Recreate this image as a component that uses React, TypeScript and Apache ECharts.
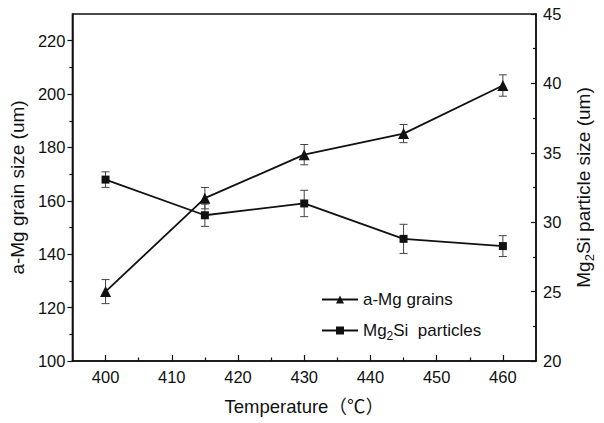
import React, { useEffect, useRef } from "react";
import * as echarts from "echarts";

// Annealing temperature (°C)
const temperatures = [400, 415, 430, 445, 460];
// α-Mg grain size (µm) and its error half-widths
const grainSize = [126, 161, 177.3, 185.2, 203.2];
const grainErr = [4.5, 4, 3.8, 3.4, 4];
// Mg2Si particle size (µm) and its error half-widths
const particleSize = [33.07, 30.5, 31.35, 28.8, 28.28];
const particleErr = [0.56, 0.8, 0.95, 1.05, 0.75];

// Tick positions
const xMajor = [400, 410, 420, 430, 440, 450, 460];
const xMinor = [405, 415, 425, 435, 445, 455];
const leftMajor = [100, 120, 140, 160, 180, 200, 220];
const leftMinor = [110, 130, 150, 170, 190, 210];
const rightMajor = [20, 25, 30, 35, 40, 45];
const rightMinor = [22.5, 27.5, 32.5, 37.5, 42.5];

const FONT = "'Liberation Sans', Arial, 'Noto Sans CJK SC', sans-serif";
const INK = "#111";

const legendRich = {
  n: { fontSize: 17, fontFamily: FONT, color: INK, lineHeight: 24, verticalAlign: "middle" as const },
  s: { fontSize: 12, fontFamily: FONT, color: INK, lineHeight: 24, verticalAlign: "bottom" as const },
};
const nameRich = {
  n: { fontSize: 19, fontFamily: FONT, color: INK, lineHeight: 26, verticalAlign: "middle" as const },
  s: { fontSize: 13, fontFamily: FONT, color: INK, lineHeight: 26, verticalAlign: "bottom" as const },
};

function errorBarSeries(name: string, yAxisIndex: number, values: number[], errs: number[]) {
  return {
    type: "custom",
    name,
    xAxisIndex: 0,
    yAxisIndex,
    z: 1,
    silent: true,
    data: temperatures.map((t, i) => [t, values[i], errs[i]]),
    encode: { x: 0, y: 1 },
    renderItem: (_params: any, api: any) => {
      const x = api.value(0);
      const y = api.value(1);
      const e = api.value(2);
      const top = api.coord([x, y + e]);
      const bot = api.coord([x, y - e]);
      const cap = 4;
      const style = { stroke: "#444", lineWidth: 1 };
      return {
        type: "group",
        children: [
          { type: "line", shape: { x1: top[0], y1: top[1], x2: bot[0], y2: bot[1] }, style },
          { type: "line", shape: { x1: top[0] - cap, y1: top[1], x2: top[0] + cap, y2: top[1] }, style },
          { type: "line", shape: { x1: bot[0] - cap, y1: bot[1], x2: bot[0] + cap, y2: bot[1] }, style },
        ],
      };
    },
  };
}

export default function App() {
  const ref = useRef<HTMLDivElement>(null);

  useEffect(() => {
    if (!ref.current) return;
    const chart = echarts.init(ref.current, undefined, { renderer: "svg" });

    const labelStyle = { fontSize: 16.5, fontFamily: FONT, color: INK };
    const axisLine = { show: true, lineStyle: { color: INK, width: 1.5 } };
    const tickLine = { color: INK, width: 1.2 };

    chart.setOption({
      animation: false,
      backgroundColor: "#fff",
      grid: {
        left: 72,
        right: 64,
        top: 14,
        bottom: 62,
        show: true,
        borderColor: INK,
        borderWidth: 1.5,
        backgroundColor: "transparent",
      },
      legend: {
        orient: "vertical",
        left: 316,
        top: 286,
        itemWidth: 36,
        itemHeight: 10,
        itemGap: 14,
        data: ["a-Mg grains", "Mg2Si particles"],
        textStyle: { fontSize: 17, fontFamily: FONT, color: INK, rich: legendRich },
        formatter: (name: string) =>
          name === "Mg2Si particles" ? "{n|Mg}{s|2}{n|Si  particles}" : "{n|" + name + "}",
      },
      xAxis: [
        {
          type: "value",
          min: 395,
          max: 465,
          position: "bottom",
          axisLine,
          axisTick: { show: true, inside: true, length: 6, lineStyle: tickLine, customValues: xMajor },
          axisLabel: { ...labelStyle, margin: 8, customValues: xMajor },
          splitLine: { show: false },
          name: "Temperature（℃）",
          nameLocation: "middle",
          nameGap: 36,
          nameTextStyle: { fontSize: 18.5, fontFamily: FONT, color: INK },
        },
        {
          type: "value",
          min: 395,
          max: 465,
          position: "bottom",
          axisLine: { show: false },
          axisTick: { show: true, inside: true, length: 3.5, lineStyle: tickLine, customValues: xMinor },
          axisLabel: { show: false },
          splitLine: { show: false },
        },
      ],
      yAxis: [
        {
          type: "value",
          min: 100,
          max: 230,
          position: "left",
          axisLine,
          axisTick: { show: true, inside: false, length: 5, lineStyle: tickLine, customValues: leftMajor },
          axisLabel: { ...labelStyle, margin: 7, customValues: leftMajor },
          splitLine: { show: false },
          name: "a-Mg grain size (um)",
          nameLocation: "middle",
          nameRotate: 90,
          nameGap: 45,
          nameTextStyle: { fontSize: 19, fontFamily: FONT, color: INK },
        },
        {
          type: "value",
          min: 20,
          max: 45,
          position: "right",
          axisLine,
          axisTick: { show: true, inside: true, length: 5, lineStyle: tickLine, customValues: rightMajor },
          axisLabel: { ...labelStyle, margin: 7, customValues: rightMajor },
          splitLine: { show: false },
          name: "{n|Mg}{s|2}{n|Si particle size (um)}",
          nameLocation: "middle",
          nameRotate: 90,
          nameGap: 34,
          nameTextStyle: { fontSize: 19, fontFamily: FONT, color: INK, rich: nameRich },
        },
        {
          type: "value",
          min: 100,
          max: 230,
          position: "left",
          axisLine: { show: false },
          axisTick: { show: true, inside: false, length: 3, lineStyle: tickLine, customValues: leftMinor },
          axisLabel: { show: false },
          splitLine: { show: false },
        },
        {
          type: "value",
          min: 20,
          max: 45,
          position: "right",
          axisLine: { show: false },
          axisTick: { show: true, inside: true, length: 3, lineStyle: tickLine, customValues: rightMinor },
          axisLabel: { show: false },
          splitLine: { show: false },
        },
      ],
      series: [
        errorBarSeries("grainErr", 0, grainSize, grainErr),
        errorBarSeries("particleErr", 1, particleSize, particleErr),
        {
          type: "line",
          name: "a-Mg grains",
          xAxisIndex: 0,
          yAxisIndex: 0,
          z: 3,
          data: temperatures.map((t, i) => [t, grainSize[i]]),
          symbol: "triangle",
          symbolSize: 11,
          color: INK,
          itemStyle: { color: INK },
          lineStyle: { color: INK, width: 1.8 },
        },
        {
          type: "line",
          name: "Mg2Si particles",
          xAxisIndex: 0,
          yAxisIndex: 1,
          z: 3,
          data: temperatures.map((t, i) => [t, particleSize[i]]),
          symbol: "rect",
          symbolSize: 8,
          color: INK,
          itemStyle: { color: INK },
          lineStyle: { color: INK, width: 1.8 },
        },
      ],
    });

    return () => chart.dispose();
  }, []);

  return (
    <div
      ref={ref}
      style={{ position: "fixed", left: 0, top: 0, width: 604, height: 423, background: "#fff" }}
    />
  );
}
